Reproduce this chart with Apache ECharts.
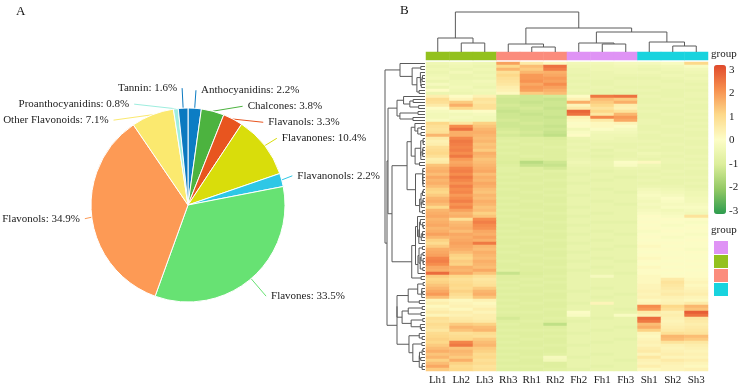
<!DOCTYPE html>
<html><head><meta charset="utf-8">
<script src="https://cdn.jsdelivr.net/npm/echarts@6/dist/echarts.min.js"></script>
<style>html,body{margin:0;padding:0;background:#fff}#c{width:744px;height:390px}</style>
</head><body><div id="c"></div>
<script>
// ---------------- Panel A data ----------------
const pieNames = ['Anthocyanidins','Chalcones','Flavanols','Flavanones','Flavanonols','Flavones','Flavonols','Other Flavonoids','Proanthocyanidins','Tannin'];
const pieValues = [2.2,3.8,3.3,10.4,2.2,33.5,34.9,7.1,0.8,1.6];
const pieColors = ['#0c7dc4','#4cb33f','#e8551f','#d9dd0b','#2ec7e6','#67e273','#fd9a55','#fbe96f','#9eeedf','#0b79c0'];
// label-line lengths and label vertical anchoring per slice (style)
const pieLineLen = [18,18,18,18,16,23,12,18,18,20];
const pieLineLen2 = [0,0,0,0,0,0,0,0,0,0];
const pieLabelVAlign = ['middle','middle','middle','middle','top','middle','top','middle','middle','middle'];

// ---------------- Panel B data ----------------
const sampleLabels = ['Lh1','Lh2','Lh3','Rh3','Rh1','Rh2','Fh2','Fh1','Fh3','Sh1','Sh2','Sh3'];
const groupNames = ['F','L','R','S'];
const sampleGroup = [1,1,1,2,2,2,0,0,0,3,3,3];
const groupColors = ['#df93f5','#93c11e','#fb8c7c','#18d3de'];
// column clustering (R hclust style: negative = leaf, positive = earlier merge)
const colMerges = [[-2,-3],[-1,1],[-5,-6],[-4,3],[-8,-9],[-7,5],[-11,-12],[-10,7],[6,8],[4,9],[2,10]];
const colHeights = [9,14,5,8,8,9,6,10,20,24,40];
// row blocks (first,last row) and their cluster heights, then block-level merges
const rowBlocks = [[0,10],[11,19],[20,72],[73,102]];
const rowBlockHeights = [25,28,33,28];
const rowTopMerges = [[1,2],[4,3],[0,5]];
const rowTopHeights = [37,38,40];
const legendTicks = [-3,-2,-1,0,1,2,3];

// z-scores: Lh1 Lh2 Lh3 | Rh3 Rh1 Rh2 | Fh2 Fh1 Fh3 | Sh1 Sh2 Sh3
const heatRows = [
[-0.4,-0.3,-0.4,1.9,0.6,0.2,-0.3,-0.3,-0.2,-0.2,-0.1,1.1],
[-0.5,-0.4,-0.5,1.1,1.5,2.6,-0.4,-0.4,-0.3,-0.4,-0.3,-0.1],
[-0.4,-0.5,-0.4,1.6,1.3,2.4,-0.5,-0.4,-0.4,-0.5,-0.4,-0.3],
[-0.5,-0.3,-0.5,0.9,1.6,1.7,-0.5,-0.5,-0.4,-0.4,-0.5,-0.4],
[-0.4,-0.5,-0.4,1.1,2.0,1.8,-0.6,-0.5,-0.5,-0.5,-0.4,-0.5],
[-0.3,-0.5,-0.5,0.9,2.0,2.0,-0.5,-0.5,-0.6,-0.6,-0.5,-0.4],
[-0.5,-0.4,-0.3,0.8,2.1,1.9,-0.6,-0.6,-0.5,-0.5,-0.6,-0.5],
[-0.2,-0.4,-0.4,0.7,1.8,2.2,-0.5,-0.6,-0.5,-0.5,-0.5,-0.6],
[-0.5,-0.3,-0.5,0.5,2.0,1.9,-0.6,-0.5,-0.6,-0.6,-0.5,-0.5],
[0.1,-0.4,-0.3,0.4,1.9,1.7,-0.5,-0.6,-0.5,-0.5,-0.6,-0.6],
[-0.5,-0.5,-0.4,0.2,1.3,1.5,-0.6,-0.6,-0.6,-0.6,-0.6,-0.5],
[0.5,0.1,0.4,-1.1,-1.2,-1.1,0.1,2.5,2.6,-0.5,-0.6,-0.5],
[1.0,0.3,0.8,-1.2,-1.2,-1.3,0.4,1.5,1.3,-0.6,-0.5,-0.6],
[0.9,1.3,0.7,-1.2,-1.3,-1.2,1.7,1.3,1.7,-0.6,-0.6,-0.5],
[0.6,1.7,0.9,-1.1,-1.2,-1.2,0.3,1.1,0.5,-0.5,-0.5,-0.6],
[0.1,1.1,0.9,-1.2,-1.1,-1.3,0.6,0.8,0.4,-0.6,-0.6,-0.6],
[-0.2,-0.1,0.1,-1.3,-1.2,-1.2,2.8,1.1,0.8,-0.5,-0.6,-0.5],
[-0.3,-0.3,-0.2,-1.2,-1.3,-1.2,2.6,0.7,1.6,-0.6,-0.5,-0.6],
[-0.3,-0.2,-0.3,-1.2,-1.2,-1.3,0.4,2.3,2.0,-0.6,-0.6,-0.5],
[-0.1,-0.3,-0.3,-1.1,-1.2,-1.2,0.2,0.6,1.8,-0.5,-0.6,-0.6],
[1.1,0.7,1.2,-1.2,-1.1,-1.2,0.0,0.2,0.3,-0.5,-0.6,-0.5],
[0.9,2.2,1.4,-1.2,-1.2,-1.3,0.1,0.2,0.0,-0.6,-0.5,-0.6],
[0.8,2.6,1.6,-1.1,-1.2,-1.2,-0.3,0.0,-0.2,-0.6,-0.6,-0.5],
[0.9,1.7,1.7,-1.0,-1.1,-1.3,-0.1,-0.3,-0.3,-0.5,-0.6,-0.6],
[1.6,1.7,1.6,-1.1,-1.2,-1.4,0.1,-0.4,-0.4,-0.6,-0.5,-0.6],
[0.6,2.3,1.5,-0.9,-0.9,-1.0,-0.5,-0.4,-0.5,-0.6,-0.6,-0.5],
[0.4,2.5,1.6,-0.8,-0.9,-0.9,-0.6,-0.5,-0.5,-0.5,-0.6,-0.6],
[0.5,2.4,1.4,-0.9,-0.8,-0.9,-0.5,-0.6,-0.6,-0.6,-0.5,-0.6],
[0.9,2.3,1.5,-0.8,-0.9,-0.8,-0.6,-0.5,-0.6,-0.5,-0.6,-0.5],
[1.0,2.4,1.3,-0.9,-0.9,-0.9,-0.5,-0.7,-0.5,-0.6,-0.6,-0.6],
[1.1,2.2,1.7,-0.8,-0.9,-0.9,-0.6,-0.6,-0.6,-0.4,-0.5,-0.6],
[0.9,2.5,1.6,-0.9,-0.8,-0.9,-0.6,-0.7,-0.6,-0.5,-0.6,-0.5],
[0.5,2.0,1.4,-0.9,-1.0,-0.9,-0.5,-0.6,-0.5,-0.6,-0.5,-0.6],
[0.6,1.8,1.5,-1.0,-1.5,-1.2,-0.4,-0.5,0.0,0.2,-0.5,-0.5],
[1.4,1.9,1.6,-0.9,-1.3,-1.3,-0.5,-0.5,-0.1,-0.4,-0.6,-0.6],
[1.6,2.3,1.7,-0.8,-0.9,-1.1,-0.6,-0.6,-0.5,-0.5,-0.6,-0.5],
[1.7,2.4,1.8,-0.8,-0.9,-0.8,-0.6,-0.7,-0.6,-0.6,-0.5,-0.6],
[1.5,2.2,1.5,-0.9,-0.8,-0.9,-0.7,-0.6,-0.6,-0.5,-0.6,-0.6],
[1.8,2.5,1.7,-0.8,-0.9,-0.9,-0.6,-0.6,-0.7,-0.6,-0.5,-0.5],
[1.6,2.3,1.6,-0.9,-0.9,-0.8,-0.6,-0.7,-0.6,-0.5,-0.6,-0.6],
[1.7,2.1,1.8,-0.8,-0.8,-0.9,-0.7,-0.6,-0.6,-0.6,-0.6,-0.5],
[1.5,2.4,1.7,-0.9,-0.9,-0.9,-0.6,-0.6,-0.6,-0.5,-0.5,-0.6],
[1.2,2.2,1.5,-0.8,-0.9,-0.8,-0.6,-0.7,-0.6,-0.3,-0.4,-0.5],
[1.1,2.3,1.4,-0.9,-0.8,-0.9,-0.6,-0.6,-0.7,-0.2,-0.3,-0.4],
[1.3,2.0,1.6,-0.9,-0.9,-0.8,-0.7,-0.6,-0.6,-0.1,-0.2,-0.4],
[1.6,2.2,1.5,-0.8,-0.9,-0.9,-0.6,-0.6,-0.6,-0.2,0.0,-0.3],
[1.7,2.4,1.7,-0.9,-0.8,-0.9,-0.6,-0.7,-0.6,-0.3,-0.1,-0.3],
[1.5,2.1,1.6,-0.8,-0.9,-0.8,-0.6,-0.6,-0.7,-0.2,-0.2,-0.2],
[1.1,2.3,1.4,-0.9,-0.9,-0.9,-0.7,-0.6,-0.6,-0.3,-0.1,-0.1],
[1.6,1.9,1.5,-0.8,-0.8,-0.9,-0.6,-0.6,-0.6,-0.2,-0.3,-0.2],
[1.7,1.6,1.2,-0.9,-0.9,-0.8,-0.6,-0.7,-0.6,-0.1,-0.2,-0.3],
[1.8,1.7,1.4,-0.8,-0.9,-0.9,-0.7,-0.6,-0.6,0.1,-0.1,0.8],
[1.6,0.9,2.2,-0.9,-0.8,-0.9,-0.6,-0.6,-0.6,0.0,0.1,0.0],
[1.7,1.5,2.4,-0.9,-0.9,-0.8,-0.6,-0.7,-0.7,0.1,0.0,-0.1],
[1.8,1.6,2.2,-0.8,-0.9,-0.9,-0.7,-0.6,-0.6,0.0,-0.1,0.0],
[1.6,1.7,2.1,-0.9,-0.8,-0.9,-0.6,-0.6,-0.6,0.1,0.0,0.1],
[1.7,1.5,1.8,-0.8,-0.9,-0.8,-0.6,-0.7,-0.6,-0.1,0.1,0.0],
[1.9,1.8,1.7,-0.9,-0.9,-0.9,-0.7,-0.6,-0.7,0.0,0.0,-0.1],
[1.6,1.7,1.9,-0.8,-0.8,-0.9,-0.6,-0.6,-0.6,0.1,-0.1,0.0],
[1.2,1.8,1.7,-0.9,-0.9,-0.8,-0.6,-0.7,-0.6,0.0,0.0,0.1],
[1.0,1.9,2.5,-0.9,-0.8,-0.9,-0.7,-0.6,-0.6,0.1,0.1,0.0],
[1.3,1.8,1.6,-0.8,-0.9,-0.9,-0.6,-0.6,-0.7,0.2,0.0,0.0],
[1.7,1.7,1.5,-0.9,-0.9,-0.8,-0.6,-0.7,-0.6,0.1,0.1,-0.1],
[1.8,1.5,1.7,-0.8,-0.9,-0.9,-0.7,-0.6,-0.6,0.0,0.0,0.1],
[1.9,1.2,1.6,-0.9,-0.8,-0.9,-0.6,-0.6,-0.6,0.1,0.0,0.0],
[2.3,1.1,1.5,-0.9,-0.9,-0.8,-0.6,-0.7,-0.6,0.2,0.1,0.0],
[2.4,1.3,1.7,-0.8,-0.9,-0.9,-0.7,-0.6,-0.7,0.1,0.0,0.1],
[2.2,1.2,1.6,-0.9,-0.8,-0.9,-0.6,-0.6,-0.6,0.0,0.1,0.0],
[1.8,1.7,1.5,-0.9,-0.9,-0.8,-0.6,-0.7,-0.6,0.2,0.0,0.1],
[1.7,1.6,1.8,-0.8,-0.9,-0.9,-0.7,-0.6,-0.6,0.1,0.1,0.0],
[2.7,1.8,1.4,-1.3,-1.0,-0.9,-0.6,-0.6,-0.7,0.1,0.0,0.1],
[1.3,1.1,0.9,-0.9,-0.9,-0.8,-0.6,-0.2,-0.6,0.2,0.1,0.1],
[1.1,0.9,0.7,-0.9,-0.8,-0.9,-0.6,-0.6,-0.6,0.2,0.6,0.2],
[1.2,1.0,0.8,-0.8,-0.9,-0.8,-0.6,-0.6,-0.6,0.2,0.8,0.3],
[1.4,1.1,0.9,-0.9,-0.8,-0.9,-0.6,-0.6,-0.6,0.3,0.7,0.2],
[1.6,1.0,1.3,-0.8,-0.9,-0.9,-0.6,-0.7,-0.6,0.3,0.6,0.3],
[1.8,1.2,1.6,-0.9,-0.9,-0.8,-0.7,-0.6,-0.6,0.4,0.5,0.4],
[2.0,1.0,1.7,-0.8,-0.8,-0.9,-0.6,-0.6,-0.7,0.3,0.6,0.5],
[1.5,0.8,1.4,-0.9,-0.9,-0.9,-0.6,-0.7,-0.6,0.4,0.4,0.3],
[0.3,0.2,0.4,-0.8,-0.9,-0.8,-0.6,-0.6,-0.6,0.2,0.3,0.2],
[0.5,0.3,0.2,-0.9,-0.8,-0.9,-0.7,0.3,-0.6,0.3,0.4,0.6],
[0.2,0.4,0.3,-0.8,-0.9,-0.9,-0.6,-0.6,-0.6,2.2,1.1,1.6],
[0.4,0.2,0.5,-0.9,-0.9,-0.8,-0.6,-0.6,-0.7,2.0,0.9,1.4],
[0.6,0.5,0.3,-0.8,-0.8,-0.9,0.0,-0.6,-0.6,0.6,0.4,2.9],
[0.3,0.4,0.5,-0.9,-0.9,-0.9,-0.1,-0.6,-0.1,0.4,0.5,2.6],
[0.9,0.6,0.5,-1.1,-0.9,-0.8,-0.6,-0.7,-0.6,2.7,0.4,0.7],
[0.8,0.7,0.6,-0.9,-0.8,-0.9,-0.7,-0.6,-0.6,2.5,0.3,0.6],
[1.0,1.3,1.2,-0.8,-0.9,-1.4,-0.6,-0.6,-0.6,1.5,0.4,0.5],
[0.9,1.6,1.5,-0.9,-0.9,-0.9,-0.6,-0.6,-0.7,1.7,0.5,0.6],
[0.7,1.4,1.6,-0.8,-0.8,-0.8,-0.6,-0.7,-0.6,1.2,0.6,0.7],
[1.0,0.9,1.0,-0.9,-0.9,-0.9,-0.7,-0.6,-0.6,0.3,0.9,0.8],
[1.1,1.0,0.9,-0.8,-0.9,-0.8,-0.6,-0.6,-0.6,0.2,1.6,1.5],
[1.2,1.1,1.3,-0.9,-0.8,-0.9,-0.6,-0.6,-0.7,0.3,1.5,1.3],
[1.1,2.3,1.5,-0.8,-0.9,-0.9,-0.6,-0.7,-0.6,0.4,0.8,0.7],
[1.3,2.5,1.6,-0.9,-0.9,-0.8,-0.7,-0.6,-0.6,0.3,0.4,0.5],
[1.5,1.4,1.3,-0.8,-0.8,-0.9,-0.6,-0.6,-0.6,0.5,0.3,0.4],
[1.7,1.6,1.2,-0.9,-0.9,-0.9,-0.6,-0.6,-0.6,0.6,0.4,0.3],
[1.4,1.5,1.0,-0.8,-0.9,-0.8,-0.6,-0.7,-0.6,0.3,0.5,0.4],
[1.6,1.3,1.1,-0.9,-0.8,-0.2,-0.7,-0.6,-0.6,0.7,0.3,0.3],
[1.2,1.7,0.9,-0.8,-0.9,-0.3,-0.6,-0.6,-0.7,0.4,0.6,0.5],
[1.5,1.2,1.0,-0.9,-0.9,-0.9,-0.6,-0.6,-0.6,0.3,0.4,0.3],
[1.8,1.0,0.8,-0.8,-0.8,-0.9,-0.6,-0.7,-0.6,0.5,0.3,0.2],
[1.3,1.1,0.9,-0.9,-0.9,-0.8,-0.7,-0.6,-0.6,0.2,0.3,0.4]
];

// ---------------- build helpers ----------------
const FONT = 'Liberation Serif';
const nRows = heatRows.length;
const rowIds = heatRows.map((r, i) => String(i));
const heatData = [];
heatRows.forEach((r, i) => r.forEach((v, j) => heatData.push([j, i, v])));
const groupData = sampleGroup.map((g, j) => [j, 0, g]);

// column dendrogram links: [xa, ha, h, xb, hb]
const colNodes = [];
function colNode(k) { return k < 0 ? {x: -k - 1 + 0.5, h: 0} : colNodes[k - 1]; }
const colLinks = [];
colMerges.forEach((m, i) => {
  const a = colNode(m[0]), b = colNode(m[1]);
  colNodes.push({x: (a.x + b.x) / 2, h: colHeights[i]});
  colLinks.push([a.x, a.h, colHeights[i], b.x, b.h]);
});

// row dendrogram: order-preserving Ward clustering inside each block
function clusterBlock(first, last, topH) {
  let cl = [];
  for (let i = first; i <= last; i++) cl.push({y: i + 0.5, h: 0, n: 1, c: heatRows[i].slice(), kids: null});
  while (cl.length > 1) {
    let best = 0, bd = Infinity;
    for (let k = 0; k < cl.length - 1; k++) {
      const a = cl[k], b = cl[k + 1];
      let d = 0; a.c.forEach((v, t) => d += (v - b.c[t]) ** 2);
      d = Math.sqrt(2 * a.n * b.n / (a.n + b.n) * d);
      if (d < bd) { bd = d; best = k; }
    }
    const a = cl[best], b = cl[best + 1], n = a.n + b.n;
    const node = {y: (a.y + b.y) / 2, h: Math.max(bd, a.h, b.h), n,
      c: a.c.map((v, t) => (v * a.n + b.c[t] * b.n) / n), kids: [a, b]};
    cl.splice(best, 2, node);
  }
  const root = cl[0], s = topH / root.h;
  (function scale(nd) { nd.h *= s; if (nd.kids) nd.kids.forEach(scale); })(root);
  return root;
}
const rowNodes = rowBlocks.map((b, i) => clusterBlock(b[0], b[1], rowBlockHeights[i]));
rowTopMerges.forEach((m, i) => {
  const a = rowNodes[m[0]], b = rowNodes[m[1]];
  rowNodes.push({y: (a.y + b.y) / 2, h: rowTopHeights[i], kids: [a, b]});
});
const rowLinks = [];
(function walk(nd) {
  if (!nd.kids) return;
  const [a, b] = nd.kids;
  rowLinks.push([a.h, a.y, nd.h, b.y, b.h]);
  walk(a); walk(b);
})(rowNodes[rowNodes.length - 1]);

function dendroRender(vertical) {
  return function (params, api) {
    const v = [0, 1, 2, 3, 4].map(k => api.value(k));
    const raw = vertical
      ? [[v[0], v[1]], [v[0], v[2]], [v[3], v[2]], [v[3], v[4]]]
      : [[v[0], v[1]], [v[2], v[1]], [v[2], v[3]], [v[4], v[3]]];
    return {type: 'polyline', shape: {points: raw.map(p => api.coord(p))},
      style: {stroke: '#5a5a5a', lineWidth: 1, fill: null}};
  };
}

const chart = echarts.init(document.getElementById('c'), null, {width: 744, height: 390});
const hidden = {show: false};
chart.setOption({
  animation: false,
  backgroundColor: '#fff',
  textStyle: {fontFamily: FONT},
  title: [
    {text: 'A', left: 16, top: 5, padding: 0, textStyle: {fontFamily: FONT, fontSize: 13, fontWeight: 'normal', color: '#111'}},
    {text: 'B', left: 400, top: 4, padding: 0, textStyle: {fontFamily: FONT, fontSize: 13, fontWeight: 'normal', color: '#111'}},
    {text: 'group', left: 711, top: 49, padding: 0, textStyle: {fontFamily: FONT, fontSize: 11, fontWeight: 'normal', color: '#222'}},
    {text: 'group', left: 711, top: 225, padding: 0, textStyle: {fontFamily: FONT, fontSize: 11, fontWeight: 'normal', color: '#222'}}
  ],
  grid: [
    {left: 426, top: 62, width: 282, height: 309},
    {left: 426, top: 52, width: 282, height: 8},
    {left: 426, top: 11, width: 282, height: 41},
    {left: 380, top: 62, width: 45, height: 309},
    {left: 714, top: 70, width: 12, height: 141}
  ],
  xAxis: [
    {type: 'category', gridIndex: 0, data: sampleLabels, axisLine: hidden, axisTick: hidden,
      axisLabel: {fontFamily: FONT, fontSize: 11, color: '#222', margin: 4, interval: 0}},
    {type: 'category', gridIndex: 1, data: sampleLabels, show: false},
    {type: 'value', gridIndex: 2, min: 0, max: 12, show: false},
    {type: 'value', gridIndex: 3, min: 0, max: 45, inverse: true, show: false},
    {type: 'value', gridIndex: 4, min: 0, max: 1, show: false}
  ],
  yAxis: [
    {type: 'category', gridIndex: 0, data: rowIds, inverse: true, show: false},
    {type: 'category', gridIndex: 1, data: ['group'], show: false},
    {type: 'value', gridIndex: 2, min: 0, max: 41, show: false},
    {type: 'value', gridIndex: 3, min: 0, max: nRows, inverse: true, show: false},
    {type: 'value', gridIndex: 4, min: legendTicks[0], max: legendTicks[legendTicks.length - 1], interval: 1,
      position: 'right', axisLine: hidden, axisTick: hidden, splitLine: hidden,
      axisLabel: {fontFamily: FONT, fontSize: 11, color: '#222', margin: 3}}
  ],
  visualMap: [
    {type: 'continuous', seriesIndex: 1, min: -3.1, max: 3.2, left: 714, top: 65, padding: 0,
      itemWidth: 12, itemHeight: 149, calculable: false, hoverLink: false,
      inRange: {color: ['#2d9c4e', '#93c965', '#dcee9b', '#fdfdc7', '#fdd98a', '#f7904f', '#e04a2c']}},
    {type: 'piecewise', seriesIndex: 2, left: 714, top: 241, padding: 0, itemWidth: 14, itemHeight: 13,
      itemGap: 1, showLabel: false, itemSymbol: 'rect', hoverLink: false, inverse: true,
      pieces: groupNames.map((g, i) => ({value: i, label: g, color: groupColors[i]}))}
  ],
  series: [
    {type: 'pie', center: [188, 205], radius: 97,
      startAngle: 90, clockwise: true, silent: true,
      data: pieNames.map((n, i) => ({name: n, value: pieValues[i], itemStyle: {color: pieColors[i]},
        label: {verticalAlign: pieLabelVAlign[i]},
        labelLine: {length: pieLineLen[i], length2: pieLineLen2[i]}})),
      itemStyle: {borderColor: '#fff', borderWidth: 1},
      label: {formatter: '{b}: {c}%', fontFamily: FONT, fontSize: 11, color: '#222', lineHeight: 14,
        bleedMargin: 0, overflow: 'none'},
      labelLine: {smooth: 0.2, lineStyle: {width: 1}}},
    {type: 'heatmap', xAxisIndex: 0, yAxisIndex: 0, data: heatData, silent: true, itemStyle: {borderWidth: 0}},
    {type: 'heatmap', xAxisIndex: 1, yAxisIndex: 1, data: groupData, silent: true, itemStyle: {borderWidth: 0}},
    {type: 'custom', xAxisIndex: 2, yAxisIndex: 2, data: colLinks, silent: true, renderItem: dendroRender(true)},
    {type: 'custom', xAxisIndex: 3, yAxisIndex: 3, data: rowLinks, silent: true, renderItem: dendroRender(false)}
  ]
});
</script></body></html>
